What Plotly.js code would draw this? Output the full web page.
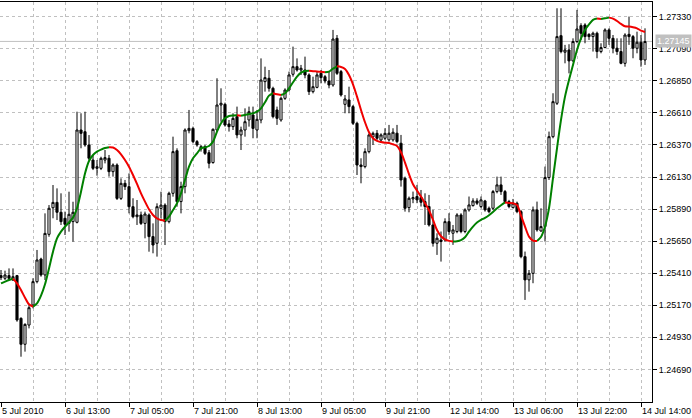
<!DOCTYPE html>
<html>
<head>
<meta charset="utf-8">
<script src="https://cdn.plot.ly/plotly-3.0.1.min.js"></script>
<style>html,body{margin:0;padding:0;background:#fff;}#chart{width:692px;height:418px;}</style>
</head>
<body>
<div id="chart"></div>
<script>
// EURUSD-like H1 bars, 5 Jul 2010 21:00 .. 14 Jul 2010 15:00
const open = [1.25392,1.25372,1.25392,1.25359,1.25392,1.25072,1.24878,1.25022,1.25172,1.25347,
1.25516,1.25397,1.25701,1.25900,1.25940,1.25866,1.25821,1.25783,1.25796,1.25791,
1.26482,1.26469,1.26370,1.26257,1.26195,1.26195,1.26257,1.26270,1.26170,1.26220,
1.25970,1.26083,1.26058,1.25908,1.25833,1.25846,1.25783,1.25846,1.25684,1.25634,
1.25895,1.25920,1.25796,1.26008,1.26327,1.25946,1.26058,1.26477,1.26494,1.26395,
1.26340,1.26357,1.26312,1.26238,1.26482,1.26669,1.26674,1.26527,1.26507,1.26582,
1.26445,1.26482,1.26557,1.26594,1.26482,1.26557,1.26844,1.26869,1.26794,1.26632,
1.26557,1.26719,1.26781,1.26899,1.26956,1.26931,1.26931,1.26894,1.26769,1.26801,
1.26906,1.26881,1.26849,1.26819,1.27168,1.26919,1.26674,1.26707,1.26657,1.26532,
1.26220,1.26208,1.26320,1.26430,1.26457,1.26407,1.26420,1.26408,1.26408,1.26458,
1.26383,1.26121,1.25901,1.25966,1.25984,1.25976,1.25946,1.25909,1.25771,1.25634,
1.25659,1.25659,1.25796,1.25709,1.25722,1.25846,1.25722,1.25884,1.25916,1.25951,
1.25909,1.25951,1.25896,1.25896,1.26021,1.26071,1.26021,1.25946,1.25901,1.25934,
1.25871,1.25534,1.25360,1.25409,1.25884,1.25726,1.25759,1.26126,1.26432,1.26682,
1.27188,1.27064,1.27081,1.26999,1.27144,1.27263,1.27268,1.27198,1.27181,1.27206,
1.27069,1.27099,1.27231,1.27168,1.27094,1.27069,1.26981,1.27198,1.27181,1.27094,
1.27139,1.27006];
const high = [1.25434,1.25429,1.25446,1.25446,1.25397,1.25080,1.25035,1.25172,1.25372,1.25584,
1.25526,1.25858,1.25920,1.26070,1.26045,1.26008,1.25871,1.26020,1.25945,1.26619,
1.26607,1.26619,1.26444,1.26295,1.26257,1.26282,1.26332,1.26295,1.26232,1.26232,
1.26120,1.26108,1.26157,1.25971,1.25958,1.25871,1.25871,1.25858,1.25783,1.25933,
1.26020,1.25933,1.26020,1.26432,1.26345,1.26095,1.26494,1.26632,1.26507,1.26407,
1.26370,1.26370,1.26332,1.26494,1.26869,1.26794,1.26687,1.26557,1.26607,1.26657,
1.26507,1.26644,1.26657,1.26657,1.26632,1.27018,1.26956,1.26931,1.26806,1.26657,
1.26732,1.26794,1.26919,1.27106,1.27018,1.26969,1.27031,1.26906,1.26881,1.26919,
1.26931,1.26894,1.26919,1.27231,1.27193,1.26931,1.26744,1.26806,1.26669,1.26544,
1.26270,1.26345,1.26457,1.26470,1.26482,1.26457,1.26495,1.26520,1.26495,1.26520,
1.26445,1.26133,1.25984,1.26021,1.26071,1.26033,1.26008,1.25996,1.25884,1.25709,
1.25722,1.25821,1.25859,1.25771,1.25859,1.25859,1.25896,1.25984,1.25971,1.25971,
1.25984,1.25959,1.25909,1.26033,1.26133,1.26133,1.26033,1.25959,1.25966,1.25946,
1.25884,1.25572,1.25434,1.25909,1.25946,1.25896,1.26208,1.26470,1.26757,1.27393,
1.27393,1.27119,1.27124,1.27168,1.27381,1.27281,1.27281,1.27206,1.27218,1.27218,
1.27131,1.27243,1.27243,1.27193,1.27168,1.27168,1.27206,1.27331,1.27193,1.27218,
1.27193,1.27243];
const low = [1.25359,1.25359,1.25359,1.25352,1.25047,1.24785,1.24823,1.24997,1.25147,1.25334,
1.25384,1.25359,1.25683,1.25821,1.25808,1.25771,1.25696,1.25721,1.25646,1.25783,
1.26345,1.26357,1.26257,1.26182,1.26140,1.26182,1.26232,1.26133,1.26133,1.25958,
1.25958,1.26033,1.25858,1.25821,1.25771,1.25771,1.25671,1.25571,1.25559,1.25534,
1.25821,1.25621,1.25783,1.25983,1.25908,1.25858,1.26008,1.26457,1.26382,1.26357,
1.26320,1.26295,1.26195,1.26230,1.26470,1.26544,1.26507,1.26470,1.26482,1.26420,
1.26332,1.26432,1.26507,1.26420,1.26420,1.26532,1.26769,1.26769,1.26569,1.26520,
1.26544,1.26707,1.26769,1.26881,1.26919,1.26894,1.26869,1.26744,1.26756,1.26794,
1.26831,1.26831,1.26794,1.26806,1.26894,1.26732,1.26607,1.26607,1.26520,1.26145,
1.26083,1.26195,1.26307,1.26370,1.26407,1.26395,1.26407,1.26395,1.26395,1.26383,
1.26058,1.25871,1.25866,1.25934,1.25934,1.25909,1.25771,1.25759,1.25609,1.25547,
1.25497,1.25647,1.25697,1.25622,1.25709,1.25709,1.25709,1.25871,1.25909,1.25921,
1.25896,1.25871,1.25859,1.25884,1.26008,1.25996,1.25934,1.25896,1.25896,1.25859,
1.25522,1.25210,1.25272,1.25335,1.25721,1.25721,1.25647,1.26108,1.26420,1.26669,
1.27056,1.26981,1.26906,1.26994,1.27131,1.27156,1.27131,1.27156,1.27069,1.27019,
1.27056,1.27094,1.27119,1.27056,1.27044,1.26974,1.26956,1.27119,1.27019,1.27056,
1.26956,1.26969];
const close = [1.25377,1.25397,1.25372,1.25384,1.25060,1.24878,1.25027,1.25152,1.25347,1.25509,
1.25397,1.25708,1.25896,1.25940,1.25866,1.25796,1.25776,1.25851,1.25866,1.26482,
1.26457,1.26370,1.26270,1.26195,1.26207,1.26270,1.26275,1.26170,1.26220,1.25970,
1.26083,1.26058,1.25908,1.25833,1.25846,1.25783,1.25853,1.25684,1.25621,1.25908,
1.25920,1.25796,1.26008,1.26320,1.25946,1.26058,1.26482,1.26494,1.26395,1.26370,
1.26357,1.26307,1.26233,1.26487,1.26669,1.26682,1.26519,1.26507,1.26569,1.26445,
1.26482,1.26544,1.26619,1.26494,1.26562,1.26856,1.26874,1.26794,1.26582,1.26569,
1.26719,1.26781,1.26894,1.26956,1.26931,1.26944,1.26894,1.26769,1.26806,1.26894,
1.26874,1.26849,1.26819,1.27163,1.26906,1.26744,1.26714,1.26657,1.26532,1.26220,
1.26208,1.26320,1.26445,1.26457,1.26420,1.26445,1.26457,1.26458,1.26465,1.26395,
1.26108,1.25896,1.25971,1.25976,1.25959,1.25941,1.25909,1.25771,1.25634,1.25672,
1.25647,1.25796,1.25722,1.25734,1.25846,1.25722,1.25884,1.25921,1.25951,1.25934,
1.25959,1.25884,1.25871,1.26021,1.26071,1.26021,1.25946,1.25909,1.25934,1.25871,
1.25534,1.25360,1.25409,1.25884,1.25734,1.25759,1.26126,1.26432,1.26694,1.27181,
1.27069,1.27081,1.26999,1.27144,1.27238,1.27206,1.27181,1.27181,1.27206,1.27069,
1.27099,1.27231,1.27168,1.27094,1.27069,1.26981,1.27193,1.27181,1.27094,1.27139,
1.27006,1.27144];
// Moving average (green while rising, red while falling)
const ma = [1.25334,1.25347,1.25359,1.25369,1.25334,1.25284,1.25227,1.25177,1.25160,1.25185,
1.25242,1.25327,1.25446,1.25571,1.25671,1.25721,1.25758,1.25791,1.25826,1.25896,
1.26020,1.26157,1.26250,1.26295,1.26320,1.26335,1.26347,1.26353,1.26351,1.26332,
1.26300,1.26257,1.26207,1.26145,1.26078,1.26008,1.25946,1.25888,1.25846,1.25821,
1.25808,1.25803,1.25833,1.25883,1.25933,1.26008,1.26108,1.26208,1.26270,1.26307,
1.26345,1.26352,1.26362,1.26395,1.26470,1.26532,1.26569,1.26587,1.26591,1.26592,
1.26588,1.26594,1.26602,1.26607,1.26619,1.26644,1.26689,1.26739,1.26757,1.26749,
1.26744,1.26757,1.26794,1.26839,1.26881,1.26911,1.26924,1.26926,1.26922,1.26920,
1.26917,1.26915,1.26919,1.26941,1.26959,1.26954,1.26939,1.26894,1.26824,1.26732,
1.26632,1.26540,1.26465,1.26420,1.26400,1.26392,1.26387,1.26385,1.26375,1.26363,
1.26315,1.26238,1.26151,1.26076,1.26028,1.25984,1.25934,1.25881,1.25809,1.25734,
1.25687,1.25664,1.25652,1.25647,1.25649,1.25657,1.25679,1.25722,1.25759,1.25789,
1.25809,1.25824,1.25844,1.25869,1.25896,1.25919,1.25940,1.25936,1.25934,1.25921,
1.25841,1.25759,1.25684,1.25654,1.25651,1.25681,1.25759,1.25896,1.26121,1.26345,
1.26557,1.26732,1.26857,1.26969,1.27081,1.27168,1.27231,1.27273,1.27306,1.27316,
1.27312,1.27318,1.27323,1.27316,1.27298,1.27276,1.27258,1.27256,1.27251,1.27243,
1.27226,1.27216];
const timeLabels = ['5 Jul 2010','6 Jul 13:00','7 Jul 05:00','7 Jul 21:00','8 Jul 13:00','9 Jul 05:00',
'9 Jul 21:00','12 Jul 14:00','13 Jul 06:00','13 Jul 22:00','14 Jul 14:00'];
const labelEvery = 16;           // bars between time labels
const priceTicks = [1.24690,1.24930,1.25170,1.25410,1.25650,1.25890,1.26130,1.26370,1.26610,1.26850,1.27090,1.27330];
const bid = 1.27145;

const xs = close.map((_, i) => i);
const labelPos = timeLabels.map((_, k) => k * labelEvery);
const minorPos = timeLabels.map((_, k) => k * labelEvery + labelEvery / 2);

// split MA into rising / falling runs
const up = {x: [], y: []}, dn = {x: [], y: []};
let i = 0;
while (i < ma.length - 1) {
  const rising = ma[i + 1] >= ma[i];
  let j = i;
  while (j < ma.length - 1 && (ma[j + 1] >= ma[j]) === rising) j++;
  const t = rising ? up : dn;
  for (let k = i; k <= j; k++) { t.x.push(xs[k]); t.y.push(ma[k]); }
  t.x.push(null); t.y.push(null);
  i = j;
}

const grid = '#c0c0c0';
const traces = [
  {
    type: 'candlestick', x: xs, open: open, high: high, low: low, close: close,
    increasing: {line: {color: '#000', width: 1}, fillcolor: '#fff'},
    decreasing: {line: {color: '#000', width: 1}, fillcolor: '#000'},
    whiskerwidth: 0, hoverinfo: 'skip', showlegend: false
  },
  {type: 'scatter', mode: 'lines', x: up.x, y: up.y, connectgaps: false,
   line: {color: '#008000', width: 2, shape: 'spline', smoothing: 0.8}, hoverinfo: 'skip', showlegend: false},
  {type: 'scatter', mode: 'lines', x: dn.x, y: dn.y, connectgaps: false,
   line: {color: '#f00000', width: 2, shape: 'spline', smoothing: 0.8}, hoverinfo: 'skip', showlegend: false}
];

const font = {family: 'Liberation Sans, Arial, sans-serif', size: 9, color: '#000'};
const layout = {
  width: 692, height: 418,
  margin: {l: 0, r: 40, t: 2, b: 16, pad: 0},
  paper_bgcolor: '#fff', plot_bgcolor: '#fff',
  showlegend: false, hovermode: false, boxgap: 0.25,
  font: font,
  xaxis: {
    range: [-0.25, 162.75], fixedrange: true,
    rangeslider: {visible: false},
    tickmode: 'array', tickvals: labelPos, ticktext: timeLabels,
    ticks: 'outside', ticklen: 4, tickcolor: '#000', tickwidth: 1,
    ticklabelposition: 'outside right',
    showgrid: true, gridcolor: grid, griddash: '3px,3px', gridwidth: 1,
    minor: {tickmode: 'array', tickvals: minorPos, showgrid: true, gridcolor: grid, griddash: '3px,3px', ticks: ''},
    showline: true, linecolor: '#000', linewidth: 1, mirror: true,
    zeroline: false, tickfont: font
  },
  yaxis: {
    range: [1.24446, 1.27440], fixedrange: true, side: 'right',
    tickmode: 'array', tickvals: priceTicks, tickformat: '.5f',
    ticks: 'outside', ticklen: 4, tickcolor: '#000', tickwidth: 1,
    showgrid: true, gridcolor: grid, griddash: '3px,3px', gridwidth: 1,
    showline: true, linecolor: '#000', linewidth: 1, mirror: true,
    zeroline: false, tickfont: font
  },
  shapes: [{type: 'line', xref: 'paper', x0: 0, x1: 1, yref: 'y', y0: bid, y1: bid,
            line: {color: '#c0c0c0', width: 1}, layer: 'below'}],
  annotations: [{xref: 'paper', x: 1, xanchor: 'left', xshift: 3, yref: 'y', y: bid, yanchor: 'middle',
                 text: bid.toFixed(5), showarrow: false, bgcolor: '#c0c0c0', borderpad: 1,
                 font: {family: font.family, size: 9, color: '#fff'}}]
};

Plotly.newPlot('chart', traces, layout, {staticPlot: true, displayModeBar: false});
</script>
</body>
</html>
